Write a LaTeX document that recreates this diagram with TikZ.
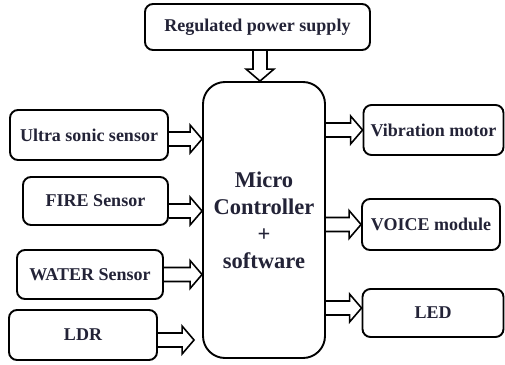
\documentclass[tikz,border=0pt]{standalone}
\usepackage{fontspec}
\setmainfont{Liberation Serif}
\usetikzlibrary{calc}
\definecolor{textnavy}{RGB}{35,35,55}

% hollow block arrow from #1 to #2
\newcommand{\hollowarrow}[2]{%
  \coordinate (ha) at ($(#2)!12pt!(#1)$);
  \draw[hollowarr] ($(#1)!7pt!90:(#2)$) -- ($(ha)!7pt!-90:(#1)$) -- ($(ha)!14pt!-90:(#1)$)
    -- (#2) -- ($(ha)!14pt!90:(#1)$) -- ($(ha)!7pt!90:(#1)$) -- ($(#1)!7pt!-90:(#2)$);
}

\begin{document}
\begin{tikzpicture}[x=1pt, y=-1pt,
  blockbox/.style={draw=black, line width=1.9pt, rounded corners=8pt, fill=white, align=center,
    text=textnavy, font=\fontsize{18}{21}\selectfont\bfseries, inner sep=0pt},
  mcubox/.style={blockbox, rounded corners=22pt, font=\fontsize{22.5}{27}\selectfont\bfseries},
  hollowarr/.style={draw=black, line width=1.6pt, line join=miter},
]
\useasboundingbox (0,0) rectangle (505,364);

% Controller
\node[mcubox, minimum width=122pt, minimum height=276pt] (mcu) at (264,220)
  {\raisebox{12pt}{\parbox{120pt}{\centering Micro\\Controller\\+\\software}}};

% Power
\node[blockbox, minimum width=225pt, minimum height=46pt] (power) at (257.5,27) {Regulated power supply};

% Inputs
\node[blockbox, minimum width=158pt, minimum height=50pt] (ultra) at (89,135) {Ultra sonic sensor};
\node[blockbox, minimum width=145pt, minimum height=48pt] (fire) at (95.5,201) {FIRE Sensor};
\node[blockbox, minimum width=146pt, minimum height=49pt] (water) at (90,274.5) {WATER Sensor};
\node[blockbox, minimum width=148pt, minimum height=50pt] (ldr) at (83,335) {LDR};

% Outputs
\node[blockbox, minimum width=140pt, minimum height=50pt] (vib) at (433.5,130) {Vibration motor};
\node[blockbox, minimum width=138pt, minimum height=51pt] (voice) at (431,224.5) {VOICE module};
\node[blockbox, minimum width=141pt, minimum height=48pt] (led) at (433,313) {LED};

% Arrows
\coordinate (p1) at ([xshift=2.5pt]power.south);
\hollowarrow{p1}{p1 |- mcu.north}
\coordinate (u1) at ([yshift=-4pt]ultra.east);
\hollowarrow{u1}{u1 -| mcu.west}
\coordinate (f1) at ([yshift=-10pt]fire.east);
\hollowarrow{f1}{f1 -| mcu.west}
\coordinate (w1) at (water.east);
\hollowarrow{w1}{w1 -| mcu.west}
\coordinate (l1) at ([yshift=-5pt]ldr.east);
\coordinate (l2) at ([xshift=-8pt]mcu.west);
\hollowarrow{l1}{l1 -| l2}
\coordinate (v1) at (mcu.east |- vib.west);
\hollowarrow{v1}{vib.west}
\coordinate (c1) at (mcu.east |- voice.west);
\hollowarrow{c1}{voice.west}
\coordinate (e1) at ([yshift=5pt]led.west);
\hollowarrow{e1 -| mcu.east}{e1}
\end{tikzpicture}
\end{document}
